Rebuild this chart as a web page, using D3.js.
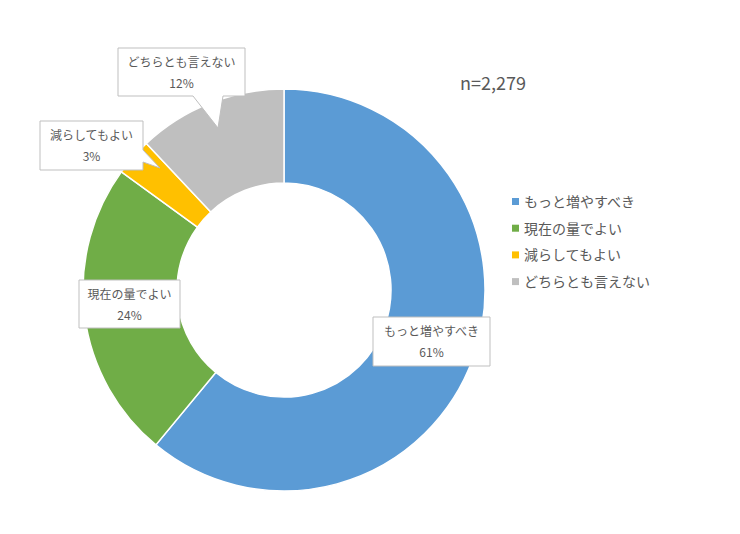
<!DOCTYPE html>
<html><head><meta charset="utf-8">
<script src="https://cdn.jsdelivr.net/npm/d3@7"></script>
<style>body{margin:0;background:#fff}text{font-family:"Noto Sans CJK JP",sans-serif}</style>
</head><body><svg width="740" height="534"></svg>
<script>
const categories = ['もっと増やすべき', '現在の量でよい', '減らしてもよい', 'どちらとも言えない'];
const values = [61, 24, 3, 12];
const colors = ['#5b9bd5', '#70ad47', '#ffc000', '#bfbfbf'];
// callout boxes: [x, y, w, h, pointer polygon or null]
const boxes = [
  [373, 317, 117, 49, null],
  [79, 280, 101, 48, null],
  [40, 121, 103, 49, [[143, 150], [160, 168], [143, 162]]],
  [118, 48, 127, 48, [[193, 96], [218, 128], [223, 96]]]
];

const svg = d3.select('svg');
const g = svg.append('g').attr('transform', 'translate(284,290)');
const pie = d3.pie().sort(null).value(d => d)(values);
const arc = d3.arc().innerRadius(107).outerRadius(201);
g.selectAll('path').data(pie).enter().append('path')
  .attr('d', arc).attr('fill', (d, i) => colors[i])
  .attr('stroke', '#fff').attr('stroke-width', 1.5);

boxes.forEach((b, i) => {
  const [x, y, w, h, ptr] = b;
  let pts = [[x, y], [x + w, y], [x + w, y + h], [x, y + h]];
  if (ptr) {
    if (i === 2) pts = [[x, y], [x + w, y], ptr[0], ptr[1], ptr[2], [x + w, y + h], [x, y + h]];
    else pts = [[x, y], [x + w, y], [x + w, y + h], ptr[2], ptr[1], ptr[0], [x, y + h]];
  }
  svg.append('polygon').attr('points', pts.map(p => p.join(',')).join(' '))
    .attr('fill', '#fff').attr('stroke', '#bfbfbf').attr('stroke-width', 1);
  svg.append('text').attr('x', x + w / 2).attr('y', y + 19).attr('text-anchor', 'middle')
    .attr('font-size', 12).attr('fill', '#595959').text(categories[i]);
  svg.append('text').attr('x', x + w / 2).attr('y', y + 40).attr('text-anchor', 'middle')
    .attr('font-size', 12).attr('fill', '#595959').text(values[i] + '%');
});

svg.append('text').attr('x', 460).attr('y', 90).attr('font-size', 18)
  .attr('fill', '#595959').text('n=2,279');

const leg = svg.selectAll('.leg').data(categories).enter().append('g')
  .attr('transform', (d, i) => `translate(512,${202 + i * 26.7})`);
leg.append('rect').attr('x', 0).attr('y', -4).attr('width', 7).attr('height', 7)
  .attr('fill', (d, i) => colors[i]);
leg.append('text').attr('x', 12).attr('y', 5).attr('font-size', 14)
  .attr('fill', '#595959').text(d => d);
</script></body></html>
